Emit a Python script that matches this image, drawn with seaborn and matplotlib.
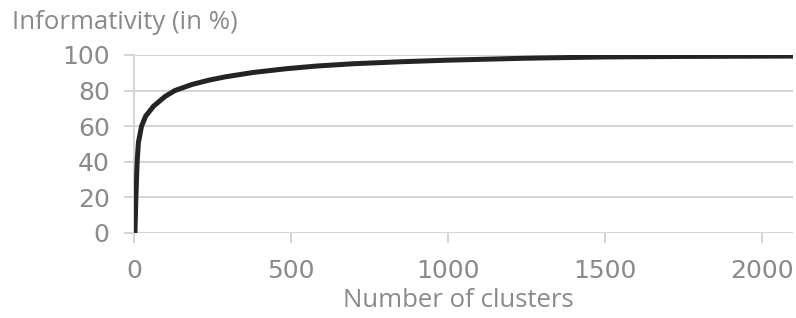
import numpy as np
import pandas as pd
import matplotlib
matplotlib.use("Agg")
import matplotlib.pyplot as plt
import seaborn as sns

# values
clusters = [3, 6, 10, 14, 24, 37, 62, 99, 130, 184, 237, 290, 380, 486, 582,
            700, 850, 1000, 1250, 1500, 1750, 2100]
informativity = [0, 20, 40, 50.8, 60, 65.6, 71.2, 76.7, 80, 83.4, 85.8, 87.7,
                 90.2, 92.3, 93.8, 95.1, 96.2, 97.1, 98.2, 98.9, 99.2, 99.4]

yticks = [0, 20, 40, 60, 80, 100]
xticks = [0, 500, 1000, 1500, 2000]

df = pd.DataFrame({"clusters": clusters, "informativity": informativity})

sns.set_style("white")
plt.rcParams["font.family"] = ["DejaVu Sans"]

grey_txt = "#8a8a8a"
grid_c = "#d4d4d4"

fig = plt.figure(figsize=(7.96, 3.18), dpi=100)
ax = fig.add_axes([134 / 796, 1 - 233 / 318, (793 - 134) / 796, (233 - 55) / 318])

sns.lineplot(data=df, x="clusters", y="informativity", ax=ax,
             color="#242424", linewidth=3.6, zorder=5,
             solid_joinstyle="round", solid_capstyle="round")

ax.set_xlim(0, 2100)
ax.set_ylim(0, 100)
ax.set_xticks(xticks)
ax.set_yticks(yticks)
ax.yaxis.grid(True, color=grid_c, linewidth=1.4)
ax.xaxis.grid(False)

for s in ["top", "right", "bottom"]:
    ax.spines[s].set_visible(False)
ax.spines["left"].set_color(grid_c)
ax.spines["left"].set_linewidth(1.4)

ax.tick_params(axis="both", colors=grid_c, labelcolor=grey_txt, labelsize=18,
               length=7.5, width=1.4, direction="out")
ax.tick_params(axis="y", left=True, pad=10)
ax.tick_params(axis="x", bottom=True, pad=11)

ax.set_xlabel("")
ax.set_ylabel("")
fig.text(458 / 796, 1 - 307 / 318, "Number of clusters", ha="center", va="baseline",
         fontsize=18.5, color=grey_txt, family=["Open Sans", "DejaVu Sans"])
fig.text(12 / 796, 1 - 29 / 318, "Informativity (in %)", ha="left", va="baseline",
         fontsize=18.5, color=grey_txt, family=["Open Sans", "DejaVu Sans"])

fig.savefig("out.png", dpi=100)
